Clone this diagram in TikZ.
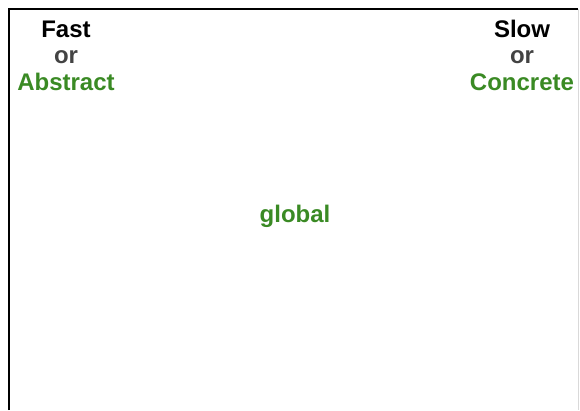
\documentclass[tikz,border=0pt]{standalone}
\usepackage{fontspec}
\setmainfont{Liberation Sans}
\usetikzlibrary{positioning}
\definecolor{leafgreen}{HTML}{3A8A24}
\definecolor{darkgrey}{HTML}{434343}
\tikzset{
  word/.style={font=\fontsize{24}{28}\selectfont\bfseries, inner sep=0pt, anchor=base},
  keyword/.style={word, text=leafgreen},
  joiner/.style={word, text=darkgrey}
}

\begin{document}
\begin{tikzpicture}[x=1pt, y=-1pt]
	\useasboundingbox (0,0) rectangle (580,410);
	% Frame
	\draw[line width=2pt] (9,410) -- (9,9) -- (578,9);
	\draw[black!15, line width=0.6pt] (578.5,9) -- (578.5,410);
	% Left column
	\node[word] (fast) at (66,37) {Fast};
	\node[joiner] (orleft) at (66,63) {or};
	\node[keyword] (abstract) at (66,90) {Abstract};
	% Right column
	\node[word] (slow) at (522,37) {Slow};
	\node[joiner] (orright) at (522,63) {or};
	\node[keyword] (concrete) at (522,90) {Concrete};
	% Middle
	\node[keyword] (global) at (295,222) {global};
\end{tikzpicture}
\end{document}
